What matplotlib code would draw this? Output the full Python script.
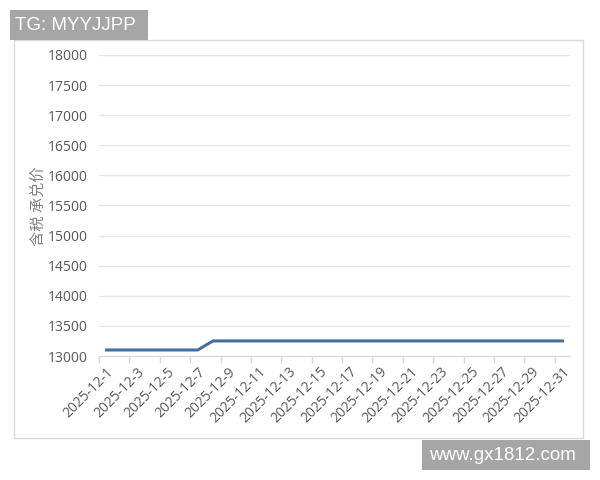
import matplotlib.pyplot as plt
from matplotlib.patches import Rectangle

plt.rcParams["font.family"] = ["Open Sans", "Noto Sans CJK SC"]

dates = ["2025-12-%d" % d for d in range(1, 32)]
prices = [13100, 13100, 13100, 13100, 13100, 13100, 13100,
          13250, 13250, 13250, 13250, 13250, 13250, 13250, 13250,
          13250, 13250, 13250, 13250, 13250, 13250, 13250, 13250,
          13250, 13250, 13250, 13250, 13250, 13250, 13250, 13250]
y_ticks = [13000, 13500, 14000, 14500, 15000, 15500, 16000, 16500, 17000, 17500, 18000]
y_label = "含税 承兑价"

fig = plt.figure(figsize=(6, 4.8), dpi=100)
W, H = 600, 480

# outer chart frame
fig.patches.append(Rectangle((14 / W, 1 - 438 / H), (583 - 14) / W, (438 - 40) / H,
                             transform=fig.transFigure, facecolor="none",
                             edgecolor="#d9d9d9", linewidth=1, zorder=-1))

ax = fig.add_axes([99 / W, 1 - 356 / H, 471 / W, 301 / H])
ax.set_facecolor("none")
x = list(range(len(dates)))
ax.plot(x, prices, color="#44709d", linewidth=2.2, solid_joinstyle="round")

ax.set_xlim(-0.5, len(dates) - 0.5)
ax.set_ylim(13000, 18000)
ax.set_yticks(y_ticks)
ax.set_yticklabels([str(v) for v in y_ticks], fontsize=10, color="#595959")
ax.yaxis.grid(True, color="#e6e6e6", linewidth=1)
ax.set_axisbelow(True)
ax.tick_params(axis="y", length=0, pad=8)

# labels at every other day, ticks between categories
ax.set_xticks(x[::2])
ax.set_xticklabels(dates[::2], rotation=45, ha="right", rotation_mode="anchor",
                   fontsize=10, color="#595959")
ax.tick_params(axis="x", length=0, pad=6)
ax.set_xticks([i - 0.5 for i in x[::2]], minor=True)
ax.tick_params(axis="x", which="minor", length=5, color="#d9d9d9", width=1)

for s in ["top", "right", "left"]:
    ax.spines[s].set_visible(False)
ax.spines["bottom"].set_color("#d9d9d9")

fig.text(38 / W, 1 - 206 / H, y_label, rotation=90, ha="center", va="center",
         fontsize=11, color="#808080", family=["Noto Sans CJK SC", "DejaVu Sans"])

# watermark boxes
fig.patches.append(Rectangle((10 / W, 1 - 40 / H), 138 / W, 30 / H,
                             transform=fig.transFigure, facecolor="#a6a6a6",
                             edgecolor="none", zorder=5))
fig.text(15 / W, 1 - 25 / H, "TG: MYYJJPP", ha="left", va="center",
         fontsize=13.5, color="white", zorder=6, family="Liberation Sans")
fig.patches.append(Rectangle((422 / W, 1 - 470 / H), 168 / W, 30 / H,
                             transform=fig.transFigure, facecolor="#a6a6a6",
                             edgecolor="none", zorder=5))
fig.text(502 / W, 1 - 455 / H, "www.gx1812.com", ha="center", va="center",
         fontsize=13.5, color="white", zorder=6, family="Liberation Sans")

fig.savefig("out.png", dpi=100)
